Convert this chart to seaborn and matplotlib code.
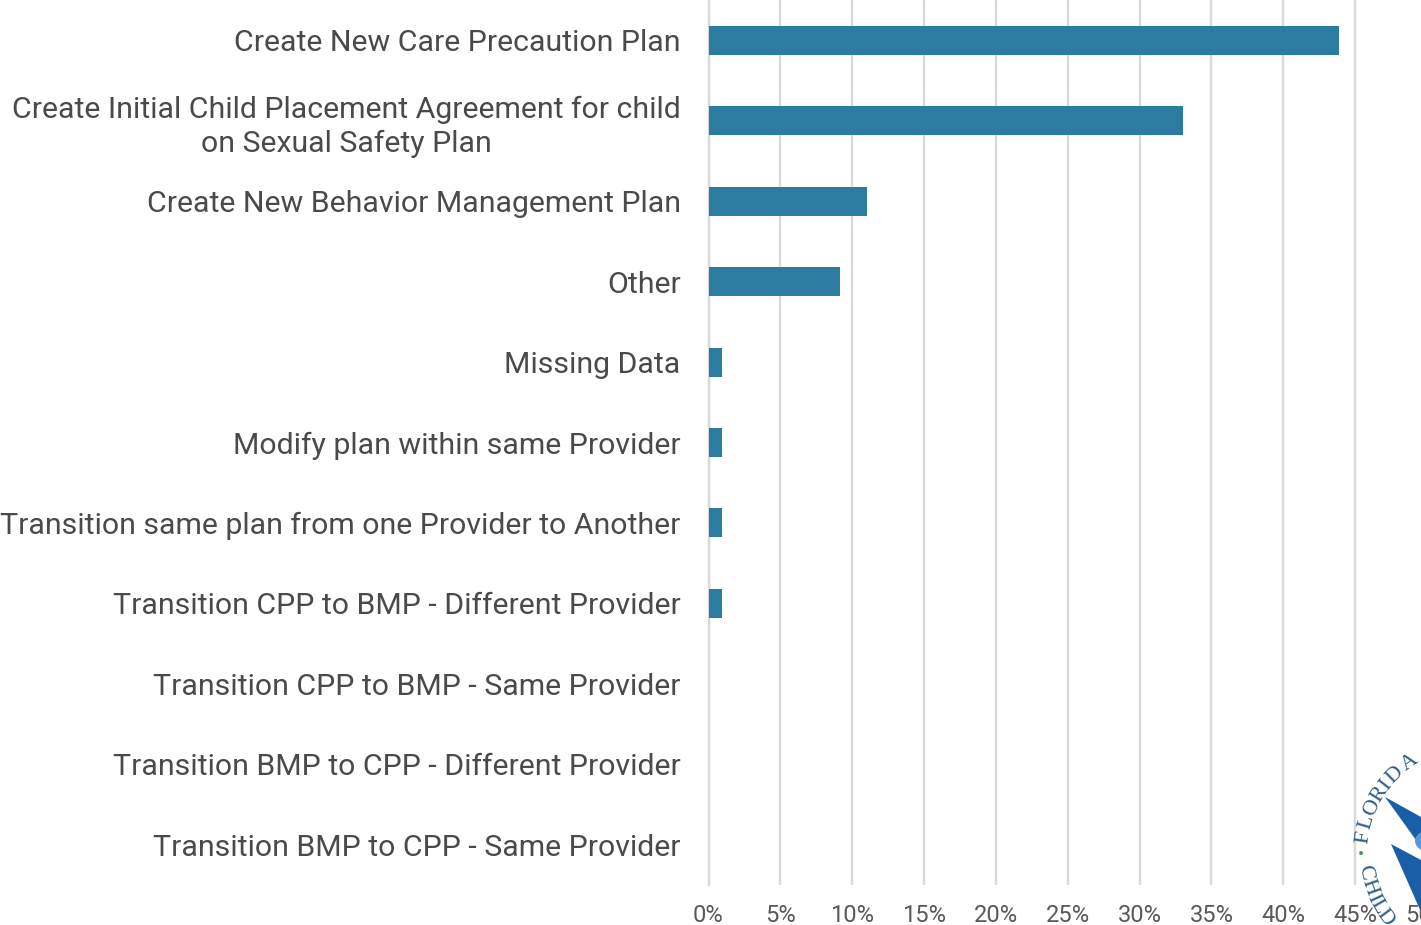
"""Placement plan types: horizontal bar chart with clipped agency seal."""
import matplotlib
matplotlib.use("Agg")
import numpy as np
import pandas as pd
import matplotlib.pyplot as plt
import seaborn as sns
from matplotlib.patches import Polygon, Circle

categories = [
    "Create New Care Precaution Plan",
    "Create Initial Child Placement Agreement for child\non Sexual Safety Plan",
    "Create New Behavior Management Plan",
    "Other",
    "Missing Data",
    "Modify plan within same Provider",
    "Transition same plan from one Provider to Another",
    "Transition CPP to BMP - Different Provider",
    "Transition CPP to BMP - Same Provider",
    "Transition BMP to CPP - Different Provider",
    "Transition BMP to CPP - Same Provider",
]
shares = [43.85, 33.0, 11.0, 9.15, 0.92, 0.92, 0.92, 0.92, 0, 0, 0]
x_ticks = [0, 5, 10, 15, 20, 25, 30, 35, 40, 45, 50]
x_tick_labels = ["0%", "5%", "10%", "15%", "20%", "25%", "30%", "35%", "40%", "45%", "50%"]

W, H = 1421, 925
sns.set_theme(style="white")
plt.rcParams["font.family"] = ["Roboto", "DejaVu Sans"]

df = pd.DataFrame({"category": categories, "share": shares})

fig = plt.figure(figsize=(W / 100, H / 100), dpi=100)
# plot area runs past the right edge of the canvas, as in the source slide
ax = fig.add_axes([708.5 / W, 1 - 885 / H, (1427 - 708.5) / W, 885 / H])

sns.barplot(data=df, y="category", x="share", color="#2C7BA1", saturation=1,
            width=0.36, linewidth=0, ax=ax, zorder=3)

ax.set_xlim(0, 50)
ax.set_xticks(x_ticks)
ax.set_xticklabels(x_tick_labels, fontsize=17, color="#595959", clip_on=False)
ax.set_xlabel("")
ax.set_ylabel("")
ax.grid(axis="x", color="#D9D9D9", linewidth=1.7)
ax.set_axisbelow(True)
for side in ["top", "right", "bottom"]:
    ax.spines[side].set_visible(False)
ax.spines["left"].set_color("#D9D9D9")
ax.spines["left"].set_linewidth(1.7)
ax.tick_params(axis="y", length=0, pad=20, labelsize=21.8, labelcolor="#4A4A4A")
ax.tick_params(axis="x", length=0, pad=14)
for lab in ax.get_yticklabels():
    lab.set_linespacing(1.28)
    lab.set_multialignment("center")


def px(x, y):
    return x / W, 1 - y / H


# seal in the bottom right corner
fig.add_artist(Polygon([px(1385, 797), px(1421, 817), px(1421, 847)], closed=True,
                       facecolor="#1B5EA8", edgecolor="none", transform=fig.transFigure, zorder=5))
fig.add_artist(Polygon([px(1391, 844), px(1421, 860), px(1421, 912)], closed=True,
                       facecolor="#1B5EA8", edgecolor="none", transform=fig.transFigure, zorder=5))
orb = Circle(px(1433, 841), 18 / W, facecolor="#5C96D2", edgecolor="none",
             transform=fig.transFigure, zorder=5.5)
fig.add_artist(orb)

seal_x, seal_y, seal_r = 1472, 852, 109
top_letters = [("F", 188), ("L", 196), ("O", 204), ("R", 212), ("I", 218), ("D", 225), ("A", 235)]
low_letters = [("C", 169), ("H", 161), ("I", 155), ("L", 150), ("D", 143)]
for letter, deg in top_letters + low_letters:
    a = np.radians(deg)
    x = seal_x + seal_r * np.cos(a)
    y = seal_y + seal_r * np.sin(a)
    rot = 270 - deg if deg > 180 else 90 - deg
    fig.text(*px(x, y), letter, family="Liberation Serif", fontsize=16, color="#2F5B85",
             rotation=rot, rotation_mode="anchor", ha="center", va="center", zorder=6)
fig.text(*px(1361, 855), "•", fontsize=13, color="#4E8B57", ha="center", va="center", zorder=6)

fig.savefig("out.png", dpi=100)
plt.close(fig)
